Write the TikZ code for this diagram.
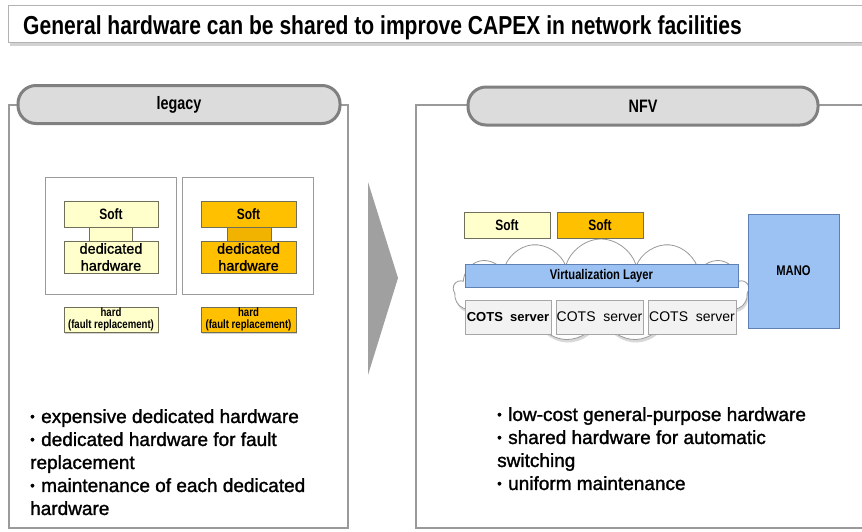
\documentclass[tikz,border=0pt]{standalone}
\usepackage{fontspec}
\setmainfont{Liberation Sans}
\newfontfamily\narrowfont[FakeStretch=0.8]{Liberation Sans}
\newfontfamily\titlefont[FakeStretch=0.81]{Liberation Sans}
\newfontfamily\bodyfont[FakeBold=1.4]{Liberation Sans}
\usetikzlibrary{shapes.symbols,shadows}
\definecolor{panelgrey}{HTML}{9A9A9A}
\definecolor{pillborder}{HTML}{808080}
\definecolor{pillfill}{HTML}{DCDCDC}
\definecolor{lightyellow}{HTML}{FFFFCC}
\definecolor{gold}{HTML}{FFC000}
\definecolor{darkgold}{HTML}{F2B200}
\definecolor{boxborder}{HTML}{6F6F5A}
\definecolor{vblue}{HTML}{9BC2F3}
\definecolor{vborder}{HTML}{5E80B5}
\definecolor{cotsfill}{HTML}{F2F2F2}
\definecolor{cotsborder}{HTML}{A6A6A6}
\definecolor{arrowgrey}{HTML}{A0A0A0}
\newcommand\bul{\makebox[11pt][l]{\raisebox{2pt}{\fontsize{13}{13}\selectfont •}}}
\tikzset{
  panel/.style={draw=panelgrey, line width=2pt},
  pill/.style={draw=pillborder, fill=pillfill, line width=3pt, rounded corners=18pt,
    minimum height=38pt, inner sep=0pt, font=\narrowfont\bfseries\fontsize{18}{20}\selectfont},
  frame/.style={draw=panelgrey, line width=1pt, fill=white, inner sep=0pt},
  hwbox/.style={draw=boxborder, line width=0.8pt, inner sep=0pt, align=center},
  softlbl/.style={hwbox, font=\narrowfont\bfseries\fontsize{15}{17}\selectfont},
  dedlbl/.style={hwbox, font=\bodyfont\fontsize{14.5}{17}\selectfont},
  hardlbl/.style={hwbox, font=\narrowfont\bfseries\fontsize{12}{11.5}\selectfont,
    drop shadow={shadow xshift=1pt, shadow yshift=-1.5pt, opacity=0.35}},
  bluebox/.style={draw=vborder, fill=vblue, line width=0.8pt, inner sep=0pt,
    font=\narrowfont\bfseries\fontsize{14}{16}\selectfont},
  cots/.style={draw=cotsborder, fill=cotsfill, line width=0.8pt, inner sep=0pt,
    minimum height=34pt, font=\fontsize{14}{16}\selectfont},
  bullets/.style={inner sep=0pt, align=left, anchor=north west,
    font=\bodyfont\fontsize{19}{23}\selectfont},
}
\begin{document}
\begin{tikzpicture}[x=1pt,y=-1pt]
\useasboundingbox (0,0) rectangle (862,531);
\clip (0,0) rectangle (862,531);
\fill[white] (0,0) rectangle (862,531);

% title
\node[draw=gray!60, fill=white, line width=1pt, anchor=north west,
  minimum width=867pt, minimum height=37pt, inner sep=0pt,
  drop shadow={shadow xshift=1pt, shadow yshift=-3pt, opacity=0.35}] (title) at (8,5) {};
\node[anchor=base west, inner sep=0pt,
  font=\titlefont\bfseries\fontsize{26}{28}\selectfont] (titletext) at (23,34.5)
  {General hardware can be shared to improve CAPEX in network facilities};

% panels
\draw[panel] (9,105) rectangle (348,528);
\draw[panel] (416,105) rectangle (880,528);
\node[pill, minimum width=322pt] (legacy) at (179,104.5) {legacy};
\node[pill, minimum width=350pt] (nfv) at (643,106) {NFV};

% legacy content
\node[frame, minimum width=131pt, minimum height=117pt] (frameA) at (110.5,235.5) {};
\node[frame, minimum width=131pt, minimum height=117pt] (frameB) at (247.5,235.5) {};

\node[hwbox, fill=lightyellow, minimum width=43pt, minimum height=14pt] (linkA) at (110.5,234) {};
\node[softlbl, fill=lightyellow, minimum width=94pt, minimum height=26pt] (softA) at (111,214) {Soft};
\node[dedlbl, fill=lightyellow, minimum width=94pt, minimum height=32pt] (dedA) at (111,257) {dedicated\\hardware};

\node[hwbox, fill=darkgold, minimum width=44pt, minimum height=14pt] (linkB) at (249,234) {};
\node[softlbl, fill=gold, minimum width=95pt, minimum height=26pt] (softB) at (248.5,214) {Soft};
\node[dedlbl, fill=gold, minimum width=95pt, minimum height=32pt] (dedB) at (248.5,257) {dedicated\\hardware};

\node[hardlbl, fill=lightyellow, minimum width=94pt, minimum height=25pt] (hardA) at (111,319.5) {hard\\(fault replacement)};
\node[hardlbl, fill=gold, minimum width=95pt, minimum height=25pt] (hardB) at (248.5,319.5) {hard\\(fault replacement)};

\node[bullets] (legacytext) at (30,409)
  {\bul expensive dedicated hardware\\
   \bul dedicated hardware for fault\\
   replacement\\
   \bul maintenance of each dedicated\\
   hardware};

% arrow
\fill[arrowgrey] (368,182) -- (398,278) -- (368,375) -- cycle;

% NFV content
\node[cloud, cloud puffs=13, aspect=3.2, draw=gray!80, fill=white, line width=0.8pt,
  minimum width=295pt, minimum height=102pt,
  drop shadow={shadow xshift=1pt, shadow yshift=-3pt, opacity=0.3}] (cloud) at (601,290) {};

\node[softlbl, fill=lightyellow, minimum width=86pt, minimum height=26pt] (softC) at (507,225) {Soft};
\node[softlbl, fill=gold, minimum width=86pt, minimum height=26pt] (softD) at (600,225) {Soft};

\node[bluebox, minimum width=273pt, minimum height=23pt] (virt) at (601.5,275.5) {Virtualization Layer};

\node[cots, minimum width=86pt, font=\bfseries\fontsize{13}{16}\selectfont] (cots1) at (508,317) {COTS\ \ server};
\node[cots, minimum width=87pt] (cots2) at (599.5,317) {COTS\ \ server};
\node[cots, minimum width=88pt] (cots3) at (692,317) {COTS\ \ server};

\node[bluebox, minimum width=91pt, minimum height=114pt] (mano) at (793.5,271) {MANO};

\node[bullets] (nfvtext) at (497,407)
  {\bul low-cost general-purpose hardware\\
   \bul shared hardware for automatic\\
   switching\\
   \bul uniform maintenance};
\end{tikzpicture}
\end{document}
